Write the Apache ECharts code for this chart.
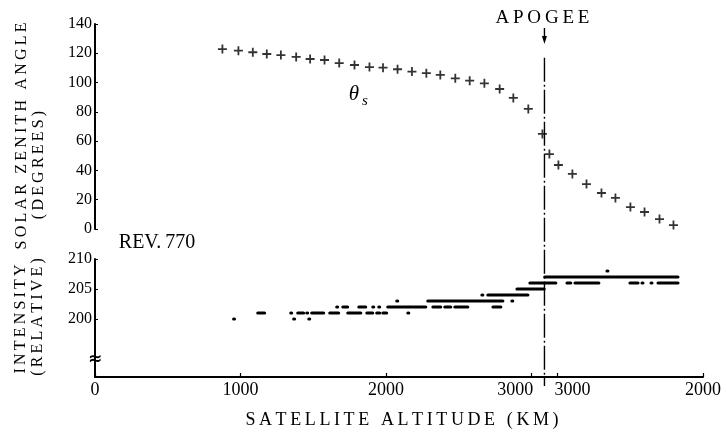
<!DOCTYPE html>
<html><head><meta charset="utf-8">
<script src="https://cdn.jsdelivr.net/npm/echarts@6/dist/echarts.min.js"></script>
<style>html,body{margin:0;padding:0;background:#fff}#c{width:727px;height:436px}</style>
</head><body><div id="c"></div>
<script>
// ---- data ----
const APOGEE = 3090;          // km, turning point of the altitude axis
const X_MAX = 4180;           // path coordinate of the right end (2000 km on the way down)
// Solar zenith angle, ascending leg
const zenithUpAlt = [876, 986, 1085, 1181, 1278, 1383, 1479, 1578, 1679, 1784, 1887, 1980, 2080, 2179, 2278, 2374, 2477, 2576, 2677, 2782, 2876, 2979, 3076];
const zenithUpDeg = [122.9, 121.8, 120.7, 119.5, 118.8, 117.5, 116.1, 115.4, 113.3, 112.0, 110.6, 110.2, 109.1, 107.5, 106.4, 105.2, 102.9, 101.3, 99.5, 95.6, 89.5, 82.0, 64.9];
// Solar zenith angle, descending leg
const zenithDownAlt = [3056, 2994, 2898, 2801, 2698, 2602, 2499, 2402, 2299, 2203];
const zenithDownDeg = [51.2, 43.7, 37.6, 30.7, 24.6, 21.2, 15.0, 11.6, 6.8, 2.7];
// Intensity samples, runs of equal value: [altStart, altEnd, level]
const intensityUp = [
  [956, 956, 200], [1369, 1369, 200], [1473, 1473, 200],
  [1122, 1163, 201], [1349, 1349, 201], [1397, 1431, 201], [1459, 1459, 201], [1493, 1569, 201],
  [1617, 1672, 201], [1741, 1824, 201], [1872, 1906, 201], [1940, 1954, 201], [1982, 2002, 201], [2154, 2154, 201],
  [1665, 1665, 202], [1707, 1734, 202], [1817, 1858, 202], [1913, 1913, 202], [1954, 1954, 202],
  [2016, 2271, 202], [2326, 2374, 202], [2408, 2443, 202], [2477, 2560, 202], [2739, 2787, 202],
  [2078, 2078, 203], [2291, 2801, 203], [2869, 2869, 203],
  [2663, 2663, 204], [2704, 2973, 204],
  [2904, 3085, 205],
  [2993, 3085, 206]
];
const intensityDown = [
  [3085, 2175, 207],
  [3084, 3015, 206], [2932, 2912, 206], [2877, 2719, 206], [2499, 2450, 206],
  [2416, 2416, 206], [2354, 2354, 206], [2306, 2175, 206],
  [2657, 2657, 208]
];
const xTickValues = [0, 1000, 2000, 3000, 2 * APOGEE - 3000, 2 * APOGEE - 2000];
const zenithTicks = { min: 0, max: 140, interval: 20 };
const intensityTicks = [200, 205, 210];

// ---- helpers ----
const up = a => a;
const down = a => 2 * APOGEE - a;
const sp = s => s.split('').join('\u2009');
const FONT = 'Liberation Serif';

const zenithData = zenithUpAlt.map((a, i) => [up(a), zenithUpDeg[i]])
  .concat(zenithDownAlt.map((a, i) => [down(a), zenithDownDeg[i]]));
const intensityData = intensityUp.map(r => [up(r[0]), up(r[1]), r[2]])
  .concat(intensityDown.map(r => [down(r[0]), down(r[1]), r[2]]));

const chart = echarts.init(document.getElementById('c'), null, { renderer: 'canvas' });
const axisLineStyle = { color: '#000', width: 2 };
chart.setOption({
  animation: false,
  backgroundColor: '#fff',
  grid: [
    { left: 95, top: 24, width: 608, height: 205 },
    { left: 95, top: 259, width: 608, height: 118 }
  ],
  xAxis: [
    { gridIndex: 0, type: 'value', min: 0, max: X_MAX, show: false },
    {
      gridIndex: 1, type: 'value', min: 0, max: X_MAX,
      axisLine: { lineStyle: axisLineStyle },
      axisTick: { inside: true, length: 4, lineStyle: { color: '#000', width: 1.2 }, customValues: xTickValues },
      splitLine: { show: false },
      axisLabel: {
        customValues: xTickValues, color: '#000', fontFamily: FONT, fontSize: 18, margin: 4,
        formatter: v => {
          const alt = v <= APOGEE ? v : 2 * APOGEE - v;
          if (v === 3000) return '{l|' + alt + '}';
          if (v === 2 * APOGEE - 3000) return '{r|' + alt + '}';
          return String(alt);
        },
        rich: {
          l: { fontFamily: FONT, fontSize: 18, color: '#000', padding: [0, 32, 0, 0] },
          r: { fontFamily: FONT, fontSize: 18, color: '#000', padding: [0, 0, 0, 30] }
        }
      }
    }
  ],
  yAxis: [
    {
      gridIndex: 0, type: 'value', min: zenithTicks.min, max: zenithTicks.max, interval: zenithTicks.interval,
      axisLine: { show: true, lineStyle: axisLineStyle },
      axisTick: { show: true, inside: true, length: 3, lineStyle: { color: '#000' } },
      splitLine: { show: false },
      axisLabel: { color: '#000', fontFamily: FONT, fontSize: 16, margin: 3 }
    },
    {
      gridIndex: 1, type: 'value', min: 190.33, max: 210,
      axisLine: { show: true, lineStyle: axisLineStyle },
      axisTick: { show: true, inside: true, length: 3, lineStyle: { color: '#000' }, customValues: intensityTicks },
      splitLine: { show: false },
      axisLabel: { customValues: intensityTicks, color: '#000', fontFamily: FONT, fontSize: 16, margin: 3 }
    }
  ],
  series: [
    {
      type: 'scatter', xAxisIndex: 0, yAxisIndex: 0, data: zenithData,
      symbol: 'path://M4,0H6V4H10V6H6V10H4V6H0V4H4Z', symbolSize: 9,
      itemStyle: { color: '#000' }
    },
    {
      type: 'custom', xAxisIndex: 1, yAxisIndex: 1, data: intensityData,
      encode: { x: [0, 1], y: 2 },
      renderItem: (params, api) => {
        const p1 = api.coord([api.value(0), api.value(2)]);
        const p2 = api.coord([api.value(1), api.value(2)]);
        const x1 = Math.min(p1[0], p2[0]) - 2, x2 = Math.max(p1[0], p2[0]) + 2;
        return { type: 'rect', shape: { x: x1, y: p1[1] - 1.6, width: x2 - x1, height: 3.2, r: 1.6 }, style: { fill: '#000' } };
      }
    }
  ]
});

const ax = chart.convertToPixel({ xAxisIndex: 1 }, APOGEE);
const yTop = chart.convertToPixel({ yAxisIndex: 0 }, 117);
const yAxisBottom = chart.convertToPixel({ yAxisIndex: 1 }, 190.33);
const txt = (x, y, text, size, extra) => Object.assign({
  type: 'text', x, y,
  style: Object.assign({ text, fontFamily: FONT, fontSize: size, fill: '#000', align: 'center', verticalAlign: 'middle' }, extra || {})
});
chart.setOption({
  graphic: [
    { type: 'line', shape: { x1: ax, y1: yTop, x2: ax, y2: yAxisBottom + 9 }, style: { stroke: '#000', lineWidth: 1.4, lineDash: [24, 3, 2, 3] } },
    { type: 'line', shape: { x1: ax, y1: 28, x2: ax, y2: 38 }, style: { stroke: '#000', lineWidth: 1.4 } },
    { type: 'polygon', shape: { points: [[ax - 2.5, 36], [ax + 2.5, 36], [ax, 44]] }, style: { fill: '#000' } },
    txt(ax - 2, 18, sp('APOGEE'), 19),
    txt(157, 243, 'REV.\u2009770', 20),
    txt(354, 94, 'θ', 21, { fontStyle: 'italic' }),
    txt(365, 101, 's', 15, { fontStyle: 'italic' }),
    txt(402, 420, sp('SATELLITE ALTITUDE (KM)'), 18),
    Object.assign(txt(22, 136, sp('SOLAR ZENITH ANGLE'), 16), { rotation: Math.PI / 2 }),
    Object.assign(txt(39, 165, sp('(DEGREES)'), 16), { rotation: Math.PI / 2 }),
    Object.assign(txt(21, 319, sp('INTENSITY'), 16), { rotation: Math.PI / 2 }),
    Object.assign(txt(38, 317, sp('(RELATIVE)'), 16), { rotation: Math.PI / 2 }),
    txt(95, 360, '≈', 17, { fontFamily: 'DejaVu Sans', fontWeight: 'bold' })
  ]
});
</script></body></html>
